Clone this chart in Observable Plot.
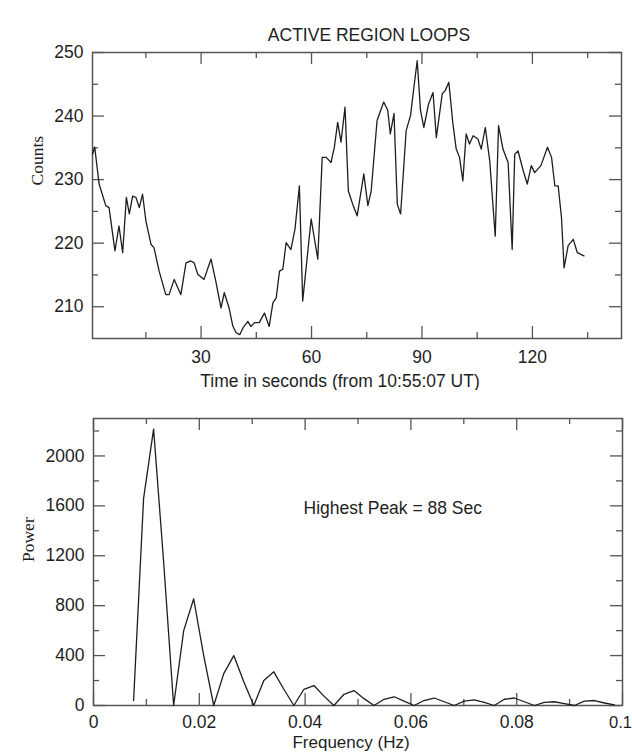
<!DOCTYPE html>
<html><head><meta charset="utf-8">
<script src="https://cdn.jsdelivr.net/npm/d3@7"></script>
<script src="https://cdn.jsdelivr.net/npm/@observablehq/plot@0.6"></script>
<style>
html,body{margin:0;padding:0;background:#fff;}
#chart{width:632px;height:756px;overflow:hidden;}
#chart svg{display:block;}
</style></head><body><div id="chart"></div>
<script>
// ---------- data ----------
const title = "ACTIVE REGION LOOPS";
const timeLabel = "Time in seconds (from 10:55:07 UT)";
const countsLabel = "Counts";
const freqLabel = "Frequency (Hz)";
const powerLabel = "Power";
const peakNote = "Highest Peak = 88 Sec";

const time = [0.5, 1.1, 2.3, 4.1, 5.0, 6.6, 7.7, 8.7, 9.7, 10.5,
  11.4, 12.3, 13.2, 14.1, 15.0, 16.4, 17.2, 18.6, 20.4, 21.3,
  22.7, 24.5, 25.9, 27.2, 28.1, 29.1, 30.8, 32.7, 34.0, 35.4,
  36.3, 37.6, 38.6, 39.5, 40.5, 41.5, 42.7, 43.5, 44.5, 45.8,
  47.2, 48.5, 49.5, 50.4, 51.3, 52.2, 53.1, 54.4, 55.5, 56.7,
  57.6, 59.9, 61.7, 62.9, 64.0, 65.3, 66.2, 67.1, 68.0, 69.1,
  70.0, 71.2, 72.4, 74.2, 75.3, 76.2, 77.8, 79.6, 80.7, 81.4,
  82.4, 83.3, 84.2, 85.7, 86.9, 87.8, 88.7, 89.6, 90.5, 91.8,
  93.0, 93.9, 95.5, 96.3, 97.3, 98.4, 99.3, 100.2, 101.1, 102.0,
  102.9, 103.9, 105.2, 106.1, 107.2, 108.4, 109.9, 110.8, 112.0, 113.4,
  114.5, 115.2, 116.1, 117.5, 118.6, 119.7, 120.6, 122.3, 124.1, 125.2,
  126.1, 127.0, 127.9, 128.6, 129.7, 131.1, 132.2, 134.0];
const counts = [234.0, 235.1, 229.3, 225.9, 225.6, 218.8, 222.7, 218.5, 227.2, 224.6,
  227.4, 227.2, 225.6, 227.7, 223.5, 219.8, 219.3, 215.6, 211.9, 211.9,
  214.3, 211.9, 216.9, 217.2, 216.9, 215.1, 214.3, 217.5, 214.0, 209.8,
  212.2, 209.8, 207.0, 205.9, 205.6, 206.8, 207.7, 206.9, 207.5, 207.5,
  209.0, 206.9, 210.6, 211.4, 215.6, 215.9, 220.1, 219.0, 222.2, 229.0,
  210.9, 223.8, 217.5, 233.5, 233.5, 232.7, 235.1, 239.0, 235.9, 241.4,
  228.2, 226.1, 224.3, 230.9, 225.9, 228.2, 239.3, 242.2, 240.9, 237.2,
  240.4, 226.1, 224.6, 237.7, 240.1, 244.5, 248.7, 240.9, 238.2, 241.9,
  243.7, 236.6, 243.5, 244.0, 245.3, 238.8, 234.8, 233.5, 229.8, 237.2,
  235.6, 236.9, 236.4, 234.8, 238.2, 233.0, 221.1, 238.5, 234.8, 232.7,
  219.0, 234.0, 234.5, 231.4, 229.3, 232.2, 231.1, 232.2, 235.1, 233.5,
  229.0, 229.0, 224.0, 216.1, 219.6, 220.6, 218.5, 218.0];

const freq = [0.00758, 0.00947, 0.01136, 0.01326, 0.01515, 0.01705, 0.01894, 0.02083,
  0.02273, 0.02462, 0.02652, 0.02841, 0.03030, 0.03220, 0.03409, 0.03598,
  0.03788, 0.03977, 0.04167, 0.04356, 0.04545, 0.04735, 0.04924, 0.05114,
  0.05303, 0.05492, 0.05682, 0.05871, 0.06061, 0.06250, 0.06439, 0.06629,
  0.06818, 0.07008, 0.07197, 0.07386, 0.07576, 0.07765, 0.07955, 0.08144,
  0.08333, 0.08523, 0.08712, 0.08902, 0.09091, 0.09280, 0.09470, 0.09659, 0.09848];
const power = [40, 1660, 2215, 1150, 0, 600, 855, 400,
  0, 255, 400, 190, 0, 200, 270, 130,
  0, 130, 160, 75, 0, 90, 120, 55,
  0, 50, 70, 35, 0, 40, 60, 30,
  0, 35, 45, 25, 0, 50, 60, 30,
  0, 25, 30, 15, 0, 35, 40, 20, 5];

const timeTicks = [30, 60, 90, 120];
const timeMinor = [15, 45, 75, 105, 135];
const countTicks = [210, 220, 230, 240, 250];
const countMinor = [215, 225, 235, 245];
const freqTicks = [0, 0.02, 0.04, 0.06, 0.08, 0.1];
const freqMinor = [0.01, 0.03, 0.05, 0.07, 0.09];
const powerTicks = [0, 400, 800, 1200, 1600, 2000];
const powerMinor = [200, 600, 1000, 1400, 1800, 2200];
const peakNoteAt = {f: 0.0397, p: 1576};

// ---------- style ----------
const W = 632;
const SANS = "'Liberation Sans', Arial, Helvetica, sans-serif";
const SERIF = "'Liberation Serif', 'Times New Roman', serif";
const INK = "#1e1e1e";
const FRAME = "#555";
const FS = 17.5;

function inwardTicks(xMaj, xMin, yMaj, yMin, iw, ih) {
  const st = {stroke: FRAME, strokeWidth: 1.3};
  const out = [];
  for (const [vals, len] of [[xMaj, 12], [xMin, 6]]) {
    out.push(Plot.tickX(vals, {x: d => d, insetTop: ih - len, ...st}));
    out.push(Plot.tickX(vals, {x: d => d, insetBottom: ih - len, ...st}));
  }
  for (const [vals, len] of [[yMaj, 12], [yMin, 6]]) {
    out.push(Plot.tickY(vals, {y: d => d, insetRight: iw - len, ...st}));
    out.push(Plot.tickY(vals, {y: d => d, insetLeft: iw - len, ...st}));
  }
  return out;
}

// ---------- top panel ----------
const m1 = {top: 52, right: 11, bottom: 52, left: 92};
const H1 = 390;
const topPanel = Plot.plot({
  width: W, height: H1,
  marginTop: m1.top, marginRight: m1.right, marginBottom: m1.bottom, marginLeft: m1.left,
  style: {fontFamily: SANS, fontSize: FS + "px", color: INK, background: "#fff"},
  x: {domain: [0.5, 144.2], axis: null},
  y: {domain: [205, 250], axis: null},
  marks: [
    ...inwardTicks(timeTicks, timeMinor, countTicks, countMinor, W - m1.left - m1.right, H1 - m1.top - m1.bottom),
    Plot.frame({stroke: FRAME, strokeWidth: 1.5}),
    Plot.line(time.map((t, i) => ({t, c: counts[i]})), {x: "t", y: "c", stroke: INK, strokeWidth: 1.3, strokeLinejoin: "round"}),
    Plot.text(timeTicks, {x: d => d, frameAnchor: "bottom", dy: 24, text: d => String(d), fill: INK, fontSize: FS}),
    Plot.text(countTicks, {y: d => d, frameAnchor: "left", dx: -9, textAnchor: "end", text: d => String(d), fill: INK, fontSize: FS}),
    Plot.text([timeLabel], {frameAnchor: "bottom", dy: 48, dx: -17, text: d => d, fill: INK, fontSize: FS}),
    Plot.text([title], {frameAnchor: "top", dy: -24, dx: 12, text: d => d, fill: INK, fontSize: FS}),
    Plot.text([countsLabel], {frameAnchor: "left", dx: -55, dy: -10, rotate: -90, text: d => d, fill: INK, fontSize: FS, fontFamily: SERIF})
  ]
});

// ---------- bottom panel ----------
const m2 = {top: 28, right: 10, bottom: 51, left: 93};
const H2 = 366;
const bottomPanel = Plot.plot({
  width: W, height: H2,
  marginTop: m2.top, marginRight: m2.right, marginBottom: m2.bottom, marginLeft: m2.left,
  style: {fontFamily: SANS, fontSize: FS + "px", color: INK, background: "#fff"},
  x: {domain: [0, 0.1], axis: null},
  y: {domain: [0, 2300], axis: null},
  marks: [
    ...inwardTicks(freqTicks, freqMinor, powerTicks, powerMinor, W - m2.left - m2.right, H2 - m2.top - m2.bottom),
    Plot.frame({stroke: FRAME, strokeWidth: 1.5}),
    Plot.line(freq.map((f, i) => ({f, p: power[i]})), {x: "f", y: "p", stroke: INK, strokeWidth: 1.3, strokeLinejoin: "round"}),
    Plot.text(freqTicks.slice(0, -1), {x: d => d, frameAnchor: "bottom", dy: 22, text: d => String(d), fill: INK, fontSize: FS}),
    Plot.text(freqTicks.slice(-1), {x: d => d, frameAnchor: "bottom", dy: 22, dx: -2, textAnchor: "middle", text: d => String(d), fill: INK, fontSize: FS - 1}),
    Plot.text(powerTicks, {y: d => d, frameAnchor: "left", dx: -9, textAnchor: "end", text: d => String(d), fill: INK, fontSize: FS}),
    Plot.text([freqLabel], {frameAnchor: "bottom", dy: 42, dx: -7, text: d => d, fill: INK, fontSize: FS - 0.5}),
    Plot.text([powerLabel], {frameAnchor: "left", dx: -65, rotate: -90, text: d => d, fill: INK, fontSize: FS, fontFamily: SERIF}),
    Plot.text([peakNoteAt], {x: "f", y: "p", text: () => peakNote, textAnchor: "start", fill: INK, fontSize: FS})
  ]
});

const chart = document.getElementById("chart");
chart.appendChild(topPanel);
chart.appendChild(bottomPanel);
</script>
</body></html>
